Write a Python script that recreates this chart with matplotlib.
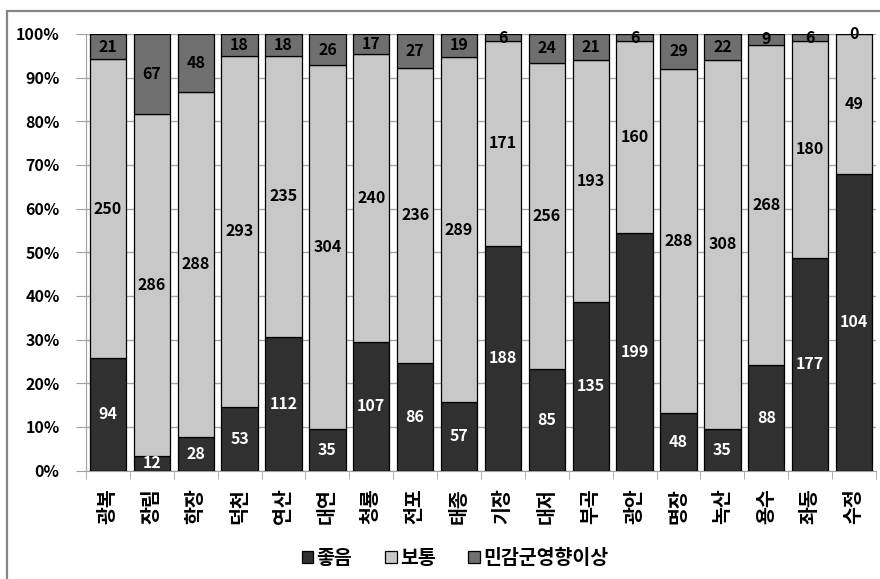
import numpy as np
import matplotlib
matplotlib.use('Agg')
import matplotlib.pyplot as plt
from matplotlib.patches import Rectangle

plt.rcParams['font.family'] = ['Noto Sans CJK KR', 'DejaVu Sans']

stations = ['광복', '장림', '학장', '덕천', '연산', '대연', '청룡', '전포', '태종',
            '기장', '대저', '부곡', '광안', '명장', '녹산', '용수', '좌동', '수정']
good = [94, 12, 28, 53, 112, 35, 107, 86, 57, 188, 85, 135, 199, 48, 35, 88, 177, 104]
normal = [250, 286, 288, 293, 235, 304, 240, 236, 289, 171, 256, 193, 160, 288, 308, 268, 180, 49]
sensitive = [21, 67, 48, 18, 18, 26, 17, 27, 19, 6, 24, 21, 6, 29, 22, 9, 6, 0]

series = [('좋음', good, '#303030', 'white'),
          ('보통', normal, '#c8c8c8', 'black'),
          ('민감군영향이상', sensitive, '#6f6f6f', 'black')]

fig = plt.figure(figsize=(8.8, 5.79), dpi=100)
ax = fig.add_axes([86/880, 1 - 470.5/579, 790/880, 436.5/579])

# outer chart frame
fig.patches.append(Rectangle((7/880, -0.02), 1.0, 1 - 11/579 + 0.02, transform=fig.transFigure,
                             fill=False, edgecolor='#858585', linewidth=1.6))

total = np.array(good) + np.array(normal) + np.array(sensitive)
x = np.arange(len(stations))
bottom = np.zeros(len(stations))
for name, vals, color, tcolor in series:
    share = np.array(vals) / total
    bars = ax.bar(x, share, 0.83, bottom=bottom, color=color, edgecolor='black',
                  linewidth=0.9, label=name, zorder=3)
    ax.bar_label(bars, labels=[str(v) for v in vals], label_type='center',
                 color=tcolor, fontsize=11.5, fontweight='bold', zorder=4)
    bottom += share

ax.set_xlim(-0.5, len(stations) - 0.5)
ax.set_ylim(0, 1)
ax.set_yticks(np.linspace(0, 1, 11))
ax.set_yticklabels([f'{int(round(t*100))}%' for t in np.linspace(0, 1, 11)],
                   fontsize=11.5, fontweight='bold')
ax.set_xticks(x)
ax.set_xticklabels(stations, rotation=90, fontsize=14, fontweight='bold')
ax.set_xticks(np.arange(-0.5, len(stations)), minor=True)
ax.tick_params(axis='x', which='major', length=0, pad=13)
ax.tick_params(axis='x', which='minor', length=6, color='#a0a0a0')
ax.tick_params(axis='y', length=7, color='#a0a0a0', pad=12)
ax.grid(axis='y', color='#a8a8a8', linewidth=1, zorder=0)
for s in ['top', 'right']:
    ax.spines[s].set_visible(False)
for s in ['left', 'bottom']:
    ax.spines[s].set_color('#a0a0a0')

leg = fig.legend(loc='center', bbox_to_anchor=(0.517, 1 - 558/579), ncol=3, frameon=False,
                 prop={'size': 14, 'weight': 'bold'}, handlelength=0.6, handleheight=0.6,
                 handletextpad=0.15, columnspacing=1.7)

fig.savefig('out.png', dpi=100)
